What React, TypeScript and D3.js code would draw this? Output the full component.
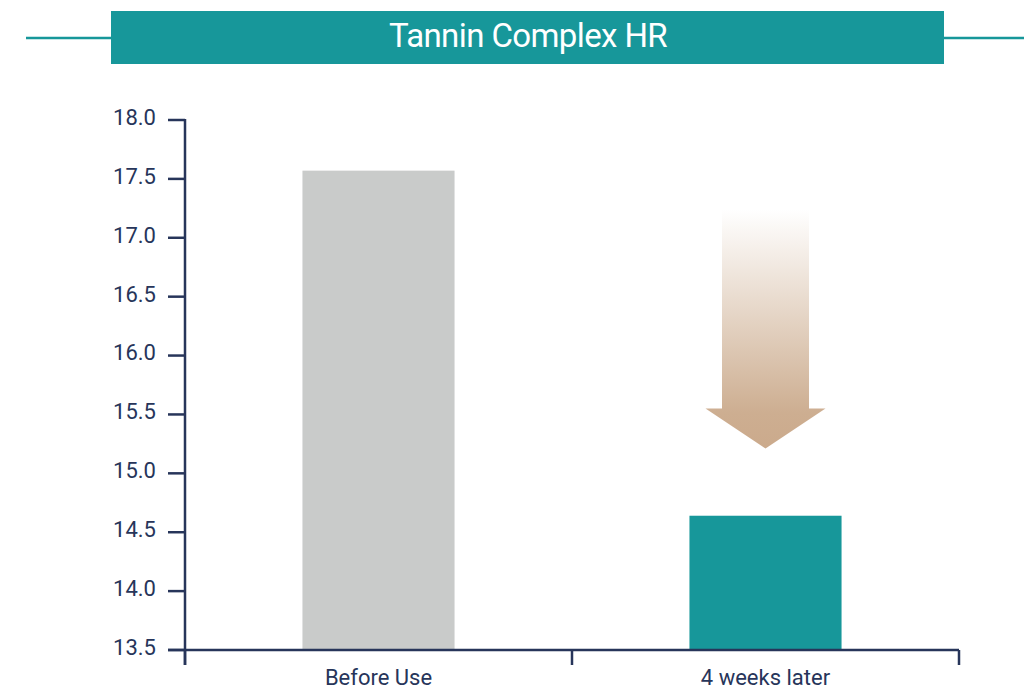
import React from "react";
import * as d3 from "d3";

const title = "Tannin Complex HR";
const categories = ["Before Use", "4 weeks later"];
const values = [17.57, 14.64];
const yTicks = [13.5, 14.0, 14.5, 15.0, 15.5, 16.0, 16.5, 17.0, 17.5, 18.0];
const barColors = ["#C9CBCA", "#17979A"];

const W = 1024;
const H = 690;
const axisColor = "#27355A";
const teal = "#17979A";

export default function App() {
  const x = d3
    .scaleBand<string>()
    .domain(categories)
    .range([185, 959])
    .paddingInner(0.607)
    .paddingOuter(0.3035);
  const xOuter = d3.scaleBand<string>().domain(categories).range([185, 959]).padding(0);
  const y = d3.scaleLinear().domain([13.5, 18.0]).range([650, 120]);

  const cx = (x(categories[1]) as number) + x.bandwidth() / 2;
  const shaftHalf = 43.5;
  const headHalf = 60;
  const topY = y(17.24);
  const headY = y(15.55);
  const tipY = y(15.21);
  const arrowPath = d3.path();
  arrowPath.moveTo(cx - shaftHalf, topY);
  arrowPath.lineTo(cx + shaftHalf, topY);
  arrowPath.lineTo(cx + shaftHalf, headY);
  arrowPath.lineTo(cx + headHalf, headY);
  arrowPath.lineTo(cx, tipY);
  arrowPath.lineTo(cx - headHalf, headY);
  arrowPath.lineTo(cx - shaftHalf, headY);
  arrowPath.closePath();

  const font = "Roboto, 'Noto Sans', sans-serif";
  const boundaries = [xOuter.range()[0], xOuter(categories[1]) as number, xOuter.range()[1]];

  return (
    <svg width={W} height={H} style={{ position: "absolute", left: 0, top: 0, display: "block" }}>
      <defs>
        <linearGradient id="arrowGrad" x1="0" y1="0" x2="0" y2="1">
          <stop offset="0" stopColor="#FFFFFF" />
          <stop offset="0.85" stopColor="#CDAE91" />
          <stop offset="1" stopColor="#CBAA8C" />
        </linearGradient>
      </defs>
      <line x1={26} x2={111} y1={38} y2={38} stroke={teal} strokeWidth={2.5} />
      <line x1={944} x2={1024} y1={38} y2={38} stroke={teal} strokeWidth={2.5} />
      <rect x={111} y={11} width={833} height={53} fill={teal} />
      <text
        x={528}
        y={47}
        textAnchor="middle"
        fill="#FFFFFF"
        fontFamily={font}
        fontSize={33}
        letterSpacing={-0.6}
      >
        {title}
      </text>

      {categories.map((c, i) => (
        <rect
          key={c}
          x={x(c)}
          y={y(values[i])}
          width={x.bandwidth()}
          height={y(13.5) - y(values[i])}
          fill={barColors[i]}
        />
      ))}

      <path d={arrowPath.toString()} fill="url(#arrowGrad)" />

      <line x1={185} x2={185} y1={y(18.0) - 1} y2={665} stroke={axisColor} strokeWidth={2.5} />
      {yTicks.map((t) => (
        <g key={t}>
          <line x1={168} x2={185} y1={y(t)} y2={y(t)} stroke={axisColor} strokeWidth={2.5} />
          <text
            x={156}
            y={y(t)}
            dy="0.22em"
            textAnchor="end"
            fill={axisColor}
            fontFamily={font}
            fontSize={22}
          >
            {t.toFixed(1)}
          </text>
        </g>
      ))}

      <line x1={168} x2={959} y1={y(13.5)} y2={y(13.5)} stroke={axisColor} strokeWidth={2.5} />
      {boundaries.map((b, i) => (
        <line key={i} x1={b} x2={b} y1={y(13.5)} y2={665} stroke={axisColor} strokeWidth={2.5} />
      ))}
      {categories.map((c) => (
        <text
          key={c}
          x={(xOuter(c) as number) + xOuter.bandwidth() / 2}
          y={685}
          textAnchor="middle"
          fill={axisColor}
          fontFamily={font}
          fontSize={22}
        >
          {c}
        </text>
      ))}
    </svg>
  );
}
